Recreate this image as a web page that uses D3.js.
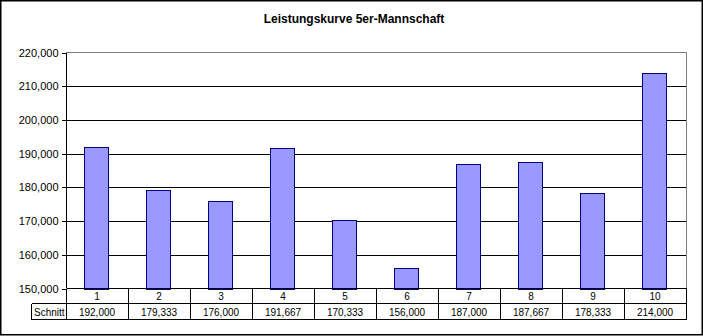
<!DOCTYPE html>
<html>
<head>
<meta charset="utf-8">
<script src="https://cdn.jsdelivr.net/npm/d3@7"></script>
<style>
  html, body { margin: 0; padding: 0; background: #fff; }
  svg { display: block; font-family: "Liberation Sans", Arial, sans-serif; }
</style>
</head>
<body>
<svg id="chart" width="703" height="336"></svg>
<script>
const title = "Leistungskurve 5er-Mannschaft";
const categories = ["1","2","3","4","5","6","7","8","9","10"];
const values = [192000, 179333, 176000, 191667, 170333, 156000, 187000, 187667, 178333, 214000];
const seriesName = "Schnitt";
const yTicks = [150000, 160000, 170000, 180000, 190000, 200000, 210000, 220000];

(function () {
const svg = d3.select("#chart");
const W = 703, H = 336;
const pLeft = 66, pRight = 686, pTop = 52.5, pBottom = 288.5;

svg.append("rect").attr("x", 0).attr("y", 0).attr("width", W).attr("height", H).attr("fill", "#fff");
svg.append("rect").attr("x", 0.75).attr("y", 0.75).attr("width", 701.5).attr("height", 334)
  .attr("fill", "none").attr("stroke", "#000").attr("stroke-width", 1.5);

svg.append("text").attr("x", 354).attr("y", 23).attr("text-anchor", "middle")
  .attr("font-weight", "bold").attr("font-size", 12).text(title);

const x = d3.scaleBand().domain(categories).range([pLeft, pRight]).paddingInner(0).paddingOuter(0);
const y = d3.scaleLinear().domain([150000, 220000]).range([pBottom, pTop]);
const fmt = d3.format(",");

// gridlines
const grid = svg.append("g").attr("transform", `translate(${pLeft + 0.5},0)`)
  .call(d3.axisLeft(y).tickValues(yTicks.slice(1, -1)).tickSize(-(pRight - pLeft)).tickFormat(""));
grid.select(".domain").remove();
grid.selectAll("line").attr("stroke", "#000").attr("stroke-width", 1).attr("shape-rendering", "crispEdges");

// plot area border (gray top and right)
svg.append("path").attr("d", `M${pLeft + 0.5},${pTop}H${pRight + 0.5}V${pBottom}`)
  .attr("fill", "none").attr("stroke", "#808080").attr("shape-rendering", "crispEdges");

// bars
const bw = 24;
svg.append("g").selectAll("rect").data(values).join("rect")
  .attr("x", (d, i) => Math.round(x(categories[i]) + x.bandwidth() / 2 - bw / 2) - 0.5)
  .attr("y", d => Math.round(y(d)) + 0.5)
  .attr("width", bw)
  .attr("height", d => Math.round(pBottom) - Math.round(y(d)))
  .attr("fill", "#9999FF").attr("stroke", "#000080").attr("stroke-width", 1);

// y axis
const yAxis = svg.append("g").attr("transform", `translate(${pLeft + 0.5},0)`)
  .call(d3.axisLeft(y).tickValues(yTicks).tickSize(5).tickPadding(3).tickFormat(fmt));
yAxis.select(".domain").attr("d", `M0,${pTop}V${pBottom}`).attr("stroke", "#000");
yAxis.selectAll("line").attr("stroke", "#000").attr("shape-rendering", "crispEdges");
yAxis.selectAll("text").attr("font-size", 11).attr("fill", "#000")
  .attr("font-family", "'Liberation Sans', Arial, sans-serif");

// data table
const rowTop = 288.5, rowMid = 303.5, rowBot = 319.5, labelLeft = 31.5;
const tbl = svg.append("g").attr("stroke", "#000").attr("shape-rendering", "crispEdges");
tbl.append("line").attr("x1", pLeft + 0.5).attr("x2", pRight + 0.5).attr("y1", rowTop).attr("y2", rowTop);
tbl.append("line").attr("x1", labelLeft).attr("x2", pRight + 0.5).attr("y1", rowMid).attr("y2", rowMid);
tbl.append("line").attr("x1", labelLeft).attr("x2", pRight + 0.5).attr("y1", rowBot).attr("y2", rowBot);
tbl.append("line").attr("x1", labelLeft).attr("x2", labelLeft).attr("y1", rowMid).attr("y2", rowBot);
tbl.append("line").attr("x1", pLeft + 0.5).attr("x2", pLeft + 0.5).attr("y1", rowTop).attr("y2", rowBot);
tbl.selectAll("line.sep").data(categories).join("line").attr("class", "sep")
  .attr("x1", d => x(d) + x.bandwidth() + 0.5).attr("x2", d => x(d) + x.bandwidth() + 0.5)
  .attr("y1", rowTop).attr("y2", rowBot);

svg.append("g").selectAll("text").data(categories).join("text")
  .attr("x", d => x(d) + x.bandwidth() / 2).attr("y", 300)
  .attr("text-anchor", "middle").attr("font-size", 10).text(d => d);
svg.append("g").selectAll("text").data(values).join("text")
  .attr("x", (d, i) => x(categories[i]) + x.bandwidth() / 2).attr("y", 316)
  .attr("text-anchor", "middle").attr("font-size", 10).text(d => fmt(d));
svg.append("text").attr("x", 34).attr("y", 316).attr("font-size", 10).text(seriesName);
})();
</script>
</body>
</html>
